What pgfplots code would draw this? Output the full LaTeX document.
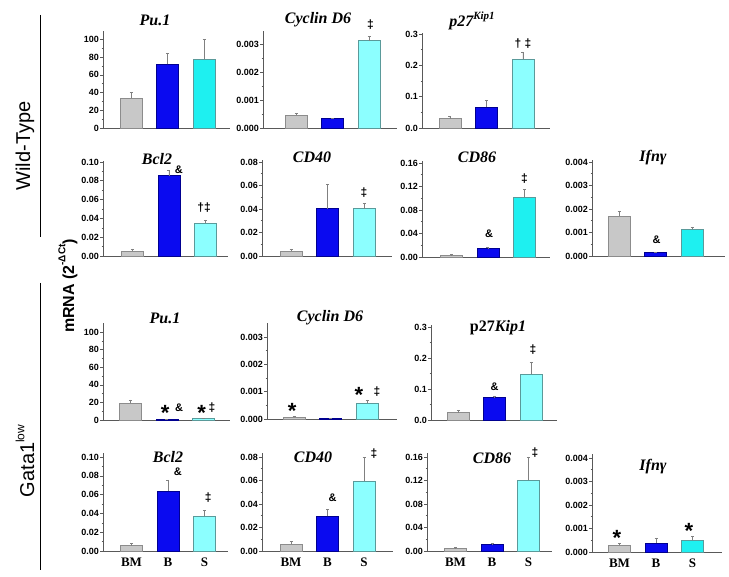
\documentclass[border=0pt]{standalone}
\usepackage{pgfplots}
\pgfplotsset{compat=1.18}
\usepackage{fontspec}
\setmainfont{Liberation Sans}
\newfontfamily\tms{Liberation Serif}
\definecolor{gfill}{HTML}{C8C8C8}
\definecolor{gline}{HTML}{8C8C8C}
\definecolor{bfill}{HTML}{0A0AF0}
\definecolor{bline}{HTML}{000090}
\definecolor{cL}{HTML}{8CFFFF}
\definecolor{cB}{HTML}{1EF0F0}
\definecolor{cline}{HTML}{5A9A9A}
\pgfplotsset{
 panel/.style={scale only axis, anchor=south west, ymin=0, enlargelimits=false, clip=false,
   axis x line*=bottom, axis y line*=left, axis line style={-, draw=black!65, line width=0.6pt},
   tick align=outside, ytick pos=left, xtick=\empty, major tick length=3pt, minor tick length=1.5pt,
   minor y tick num=1, tick style={black!65, line width=0.5pt},
   scaled y ticks=false,
   yticklabel style={font=\bfseries\fontsize{9}{10}\selectfont, inner sep=1pt},
   /pgf/number format/assume math mode=true,
   error bars/y dir=plus, error bars/y explicit,
   error bars/error bar style={black!50, line width=0.5pt},
   error bars/error mark options={rotate=90, mark size=1.5pt, black!50, line width=0.5pt},
 },
 bm/.style={xtick={1,2,3}, xticklabels={BM,B,S}, major x tick style=transparent,
   xticklabel style={font=\tms\bfseries\fontsize{13}{13}\selectfont}},
 gb/.style={ybar, bar width=22pt, fill=gfill, draw=gline, line width=0.5pt},
 bb/.style={ybar, bar width=22pt, fill=bfill, draw=bline, line width=0.5pt},
 cb/.style={ybar, bar width=22pt, fill=#1, draw=cline, line width=0.5pt},
 pu/.style={ymax=#1, ytick={0,20,40,60,80,100}, yticklabels={0,20,40,60,80,100}},
 cy/.style={ymax=#1, ytick={0,0.001,0.002,0.003}, yticklabels={0.000,0.001,0.002,0.003}},
 pk/.style={ymax=#1, ytick={0,0.1,0.2,0.3}, yticklabels={0.0,0.1,0.2,0.3}},
 bc/.style={ymax=#1, ytick={0,0.02,0.04,0.06,0.08,0.10}, yticklabels={0.00,0.02,0.04,0.06,0.08,0.10}},
 cf/.style={ymax=#1, ytick={0,0.02,0.04,0.06,0.08}, yticklabels={0.00,0.02,0.04,0.06,0.08}},
 ce/.style={ymax=#1, ytick={0,0.04,0.08,0.12,0.16}, yticklabels={0.00,0.04,0.08,0.12,0.16}},
 ifn/.style={ymax=#1, ytick={0,0.001,0.002,0.003,0.004}, yticklabels={0.000,0.001,0.002,0.003,0.004}},
}
\tikzset{
 ttl/.style={font=\tms\bfseries\itshape\fontsize{16}{16}\selectfont},
 amp/.style={font=\bfseries\fontsize{11}{11}\selectfont},
 dg/.style={font=\bfseries\fontsize{12}{12}\selectfont},
 ast/.style={font=\bfseries\fontsize{22}{22}\selectfont, yshift=-5pt},
}
\begin{document}
\begin{tikzpicture}
\useasboundingbox (0,0) rectangle (729pt,577pt);
% ---------- side labels ----------
\draw[line width=1pt] (40pt,562pt) -- (40pt,340pt);
\draw[line width=1pt] (40pt,294pt) -- (40pt,7pt);
\node[rotate=90, font=\fontsize{20}{20}\selectfont] at (25pt,431pt) {Wild-Type};
\node[rotate=90, font=\fontsize{20}{20}\selectfont] at (25pt,116pt) {Gata1\raisebox{0.5em}{\fontsize{12}{12}\selectfont low}};
\node[rotate=90, font=\bfseries\fontsize{16}{16}\selectfont] at (68pt,291pt) {mRNA (2\raisebox{0.55em}{\fontsize{10}{10}\selectfont -ΔCt})};
% ---------- titles ----------
\node[ttl] at (155pt,557pt) {Pu.1};
\node[ttl] at (318pt,557pt) {Cyclin D6};
\node[ttl] at (472pt,556pt) {p27\raisebox{0.45em}{\fontsize{11}{11}\selectfont Kip1}};
\node[ttl] at (157pt,418pt) {Bcl2};
\node[ttl] at (312pt,420pt) {CD40};
\node[ttl] at (477pt,420pt) {CD86};
\node[ttl] at (653pt,419pt) {Ifnγ};
\node[ttl] at (165pt,259pt) {Pu.1};
\node[ttl] at (330pt,259pt) {Cyclin D6};
\node[ttl] at (498pt,249pt) {\upshape p27\itshape Kip1};
\node[ttl] at (168pt,120pt) {Bcl2};
\node[ttl] at (313pt,120pt) {CD40};
\node[ttl] at (492pt,119pt) {CD86};
\node[ttl] at (653pt,110pt) {Ifnγ};
% ================= Row 1 (WT) =================
\begin{axis}[panel, pu=109.4, at={(103pt,449pt)}, width=127pt, height=97pt, xmin=0.227, xmax=3.706]
\addplot[gb] coordinates {(1,33.5) +- (0,6.5)};
\addplot[bb] coordinates {(2,71.8) +- (0,12.2)};
\addplot[cb=cB] coordinates {(3,77.4) +- (0,22.6)};
\end{axis}
\begin{axis}[panel, cy=0.00348, at={(263pt,449pt)}, width=134pt, height=97pt, xmin=0.096, xmax=3.767]
\addplot[gb] coordinates {(1,0.000455) +- (0,0.00007)};
\addplot[bb] coordinates {(2,0.00034) +- (0,0.000005)};
\addplot[cb=cL] coordinates {(3,0.00313) +- (0,0.00016)};
\node[dg] at (axis cs:3.04,0.00372) {‡};
\end{axis}
\begin{axis}[panel, pk=0.3035, at={(422pt,449pt)}, width=128pt, height=95pt, xmin=0.233, xmax=3.74]
\addplot[gb] coordinates {(1,0.0297) +- (0,0.007)};
\addplot[bb] coordinates {(2,0.067) +- (0,0.021)};
\addplot[cb=cL] coordinates {(3,0.22) +- (0,0.023)};
\node[dg] at (axis cs:3,0.27) {† ‡};
\end{axis}
% ================= Row 2 (WT) =================
\begin{axis}[panel, bc=0.101, at={(103pt,321pt)}, width=125pt, height=95pt, xmin=0.192, xmax=3.617]
\addplot[gb] coordinates {(1,0.0053) +- (0,0.0022)};
\addplot[bb] coordinates {(2,0.0854) +- (0,0.0056)};
\addplot[cb=cL] coordinates {(3,0.0352) +- (0,0.0028)};
\node[amp] at (axis cs:2.27,0.0915) {\&};
\node[dg] at (axis cs:2.96,0.051) {†‡};
\end{axis}
\begin{axis}[panel, cf=0.0817, at={(262pt,321pt)}, width=130pt, height=96pt, xmin=0.205, xmax=3.767]
\addplot[gb] coordinates {(1,0.004) +- (0,0.002)};
\addplot[bb] coordinates {(2,0.0403) +- (0,0.0207)};
\addplot[cb=cL] coordinates {(3,0.0403) +- (0,0.0042)};
\node[dg] at (axis cs:3,0.0536) {‡};
\end{axis}
\begin{axis}[panel, ce=0.1634, at={(422pt,320pt)}, width=128pt, height=96pt, xmin=0.192, xmax=3.699]
\addplot[gb] coordinates {(1,0.0028) +- (0,0.0012)};
\addplot[bb] coordinates {(2,0.0142) +- (0,0.0018)};
\addplot[cb=cB] coordinates {(3,0.102) +- (0,0.0126)};
\node[amp] at (axis cs:2.03,0.039) {\&};
\node[dg] at (axis cs:3,0.133) {‡};
\end{axis}
\begin{axis}[panel, ifn=0.004085, at={(592pt,321pt)}, width=133pt, height=96pt, xmin=0.26, xmax=3.904]
\addplot[gb] coordinates {(1,0.00171) +- (0,0.00021)};
\addplot[bb] coordinates {(2,0.00014) +- (0,0.00004)};
\addplot[cb=cB] coordinates {(3,0.00113) +- (0,0.00011)};
\node[amp] at (axis cs:2.03,0.00068) {\&};
\end{axis}
% ================= Row 3 (Gata1low) =================
\begin{axis}[panel, pu=110.2, at={(103pt,157pt)}, width=127pt, height=97pt, xmin=0.247, xmax=3.726]
\addplot[gb] coordinates {(1,19) +- (0,3.8)};
\addplot[bb] coordinates {(2,1.1) +- (0,0.3)};
\addplot[cb=cL] coordinates {(3,1.9) +- (0,0.3)};
\node[ast] at (axis cs:1.95,13.6) {*};
\node[amp] at (axis cs:2.33,13.6) {\&};
\node[ast] at (axis cs:2.95,13.6) {*};
\node[dg] at (axis cs:3.23,14.5) {‡};
\end{axis}
\begin{axis}[panel, cy=0.003512, at={(267pt,158pt)}, width=130pt, height=96pt, xmin=0.26, xmax=3.822]
\addplot[gb] coordinates {(1,0.000073) +- (0,0.000027)};
\addplot[bb] coordinates {(2,0.00001) +- (0,0)};
\addplot[cb=cL] coordinates {(3,0.000585) +- (0,0.000115)};
\node[ast] at (axis cs:0.95,0.00048) {*};
\node[ast] at (axis cs:2.78,0.00106) {*};
\node[dg] at (axis cs:3.27,0.00099) {‡};
\end{axis}
\begin{axis}[panel, pk=0.3065, at={(431pt,157pt)}, width=126pt, height=95pt, xmin=0.26, xmax=3.712]
\addplot[gb] coordinates {(1,0.0236) +- (0,0.0084)};
\addplot[bb] coordinates {(2,0.072) +- (0,0.003)};
\addplot[cb=cL] coordinates {(3,0.147) +- (0,0.0405)};
\node[amp] at (axis cs:2,0.106) {\&};
\node[dg] at (axis cs:3.05,0.226) {‡};
\end{axis}
% ================= Row 4 (Gata1low) =================
\begin{axis}[panel, bm, bc=0.1043, at={(103pt,26pt)}, width=125pt, height=98pt, xmin=0.219, xmax=3.644]
\addplot[gb] coordinates {(1,0.0057) +- (0,0.0022)};
\addplot[bb] coordinates {(2,0.0636) +- (0,0.0121)};
\addplot[cb=cL] coordinates {(3,0.0368) +- (0,0.0064)};
\node[amp] at (axis cs:2.27,0.084) {\&};
\node[dg] at (axis cs:3.1,0.0564) {‡};
\end{axis}
\begin{axis}[panel, bm, cf=0.0834, at={(262pt,26pt)}, width=131pt, height=98pt, xmin=0.205, xmax=3.794]
\addplot[gb] coordinates {(1,0.0057) +- (0,0.0025)};
\addplot[bb] coordinates {(2,0.0295) +- (0,0.0062)};
\addplot[cb=cL] coordinates {(3,0.0596) +- (0,0.0198)};
\node[amp] at (axis cs:2.14,0.045) {\&};
\node[dg] at (axis cs:3.27,0.0826) {‡};
\end{axis}
\begin{axis}[panel, bm, ce=0.1668, at={(427pt,26pt)}, width=125pt, height=98pt, xmin=0.219, xmax=3.644]
\addplot[gb] coordinates {(1,0.004) +- (0,0.0017)};
\addplot[bb] coordinates {(2,0.0114) +- (0,0.0012)};
\addplot[cb=cL] coordinates {(3,0.12) +- (0,0.04)};
\node[dg] at (axis cs:3.18,0.168) {‡};
\end{axis}
\begin{axis}[panel, bm, ifn=0.00417, at={(592pt,25pt)}, width=130pt, height=98pt, xmin=0.247, xmax=3.808]
\addplot[gb] coordinates {(1,0.00029) +- (0,0.00007)};
\addplot[bb] coordinates {(2,0.00039) +- (0,0.00021)};
\addplot[cb=cB] coordinates {(3,0.0005) +- (0,0.00017)};
\node[ast] at (axis cs:0.93,0.00081) {*};
\node[ast] at (axis cs:2.9,0.00112) {*};
\end{axis}
\end{tikzpicture}
\end{document}
